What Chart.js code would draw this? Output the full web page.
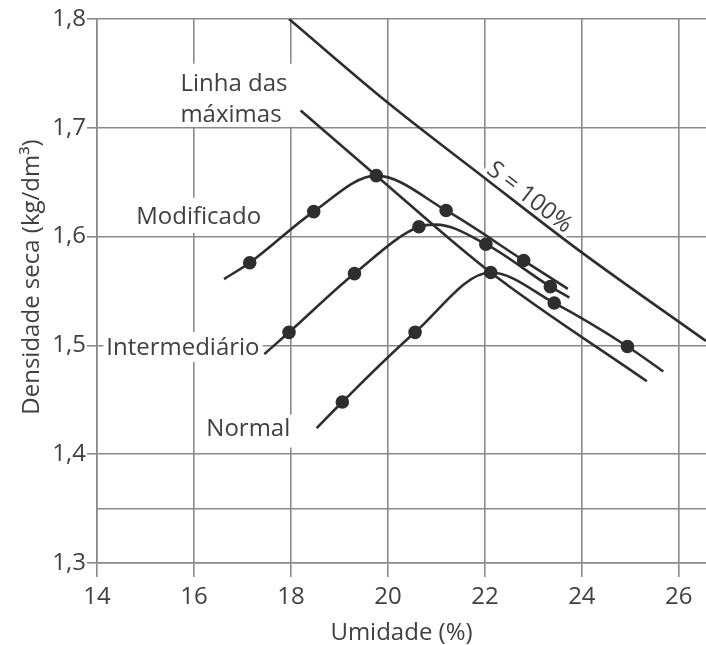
<!DOCTYPE html>
<html lang="pt">
<head>
<meta charset="utf-8">
<title>Curvas de compactação</title>
<script src="https://cdn.jsdelivr.net/npm/chart.js@4.4.1/dist/chart.umd.min.js"></script>
<style>
  html, body { margin: 0; padding: 0; background: #fff; }
  #grafico { display: block; }
</style>
</head>
<body>
<canvas id="grafico" width="706" height="645"></canvas>
<script>
// ticks dos eixos
const umidadeTicks = [14, 16, 18, 20, 22, 24, 26];
const densidadeTicks = [1.3, 1.4, 1.5, 1.6, 1.7, 1.8];
const linhaExtra = [1.35];

// Proctor modificado (1 = ponto de ensaio)
const modUmidade   = [16.62, 17.15, 18.47, 19.76, 21.20, 22.80, 23.71];
const modDensidade = [1.561, 1.576, 1.623, 1.656, 1.624, 1.578, 1.552];
const modPonto     = [0, 1, 1, 1, 1, 1, 0];

// Proctor intermediário
const intUmidade   = [17.45, 17.96, 19.31, 20.64, 20.99, 22.02, 23.35, 23.74];
const intDensidade = [1.492, 1.512, 1.566, 1.609, 1.611, 1.593, 1.554, 1.544];
const intPonto     = [0, 1, 1, 1, 0, 1, 1, 0];

// Proctor normal
const norUmidade   = [18.53, 19.06, 20.56, 22.12, 23.43, 24.94, 25.68];
const norDensidade = [1.424, 1.448, 1.512, 1.567, 1.539, 1.499, 1.476];
const norPonto     = [0, 1, 1, 1, 1, 1, 0];

// linha das máximas
const maxUmidade   = [18.20, 19.76, 22.12, 25.34];
const maxDensidade = [1.716, 1.656, 1.567, 1.467];

// curva de saturação S = 100%
const satUmidade   = [17.96, 20.0, 22.02, 24.01, 26.56];
const satDensidade = [1.800, 1.723, 1.653, 1.585, 1.504];

const fonte = "'Open Sans', 'Noto Sans', sans-serif";
const preto = '#2e2e2e';
const grade = '#8a8a8a';
const texto = '#404040';

function serie(label, xs, ys, pts) {
  return {
    label,
    data: xs.map((x, i) => ({ x, y: ys[i] })),
    showLine: true,
    borderColor: preto,
    backgroundColor: preto,
    borderWidth: 2.6,
    pointRadius: pts ? pts.map(p => p ? 5.5 : 0) : 0,
    pointHoverRadius: 0,
    cubicInterpolationMode: 'monotone'
  };
}

// textos soltos sobre o gráfico (posição em unidades dos eixos)
const notas = [
  { linhas: ['Linha das', 'máximas'], x: 15.72, y: 1.734, caixa: [15.456, 18.326, 1.7589, 1.7010] },
  { linhas: ['Modificado'], x: 14.809, y: 1.6118, caixa: [14.71, 17.60, 1.6357, 1.6035] },
  { linhas: ['Intermediário'], x: 14.19, y: 1.4913, caixa: [14.134, 17.417, 1.5124, 1.4848] },
  { linhas: ['Normal'], x: 16.255, y: 1.4168, caixa: [16.13, 18.06, 1.4364, 1.4061] }
];

const notasPlugin = {
  id: 'notas',
  beforeDatasetsDraw(chart) {
    const { ctx, scales: { x, y } } = chart;
    ctx.save();
    ctx.font = '24px ' + fonte;
    ctx.textBaseline = 'alphabetic';
    ctx.textAlign = 'left';
    notas.forEach(n => {
      const [x0, x1, y0, y1] = n.caixa;
      ctx.fillStyle = '#fff';
      ctx.fillRect(x.getPixelForValue(x0), y.getPixelForValue(y0),
        x.getPixelForValue(x1) - x.getPixelForValue(x0), y.getPixelForValue(y1) - y.getPixelForValue(y0));
      ctx.fillStyle = texto;
      n.linhas.forEach((l, i) => {
        ctx.fillText(l, x.getPixelForValue(n.x), y.getPixelForValue(n.y) + i * 30.7);
      });
    });

    // S = 100% ao longo da curva de saturação
    const ang = Math.atan2(y.getPixelForValue(satDensidade[3]) - y.getPixelForValue(satDensidade[1]),
      x.getPixelForValue(satUmidade[3]) - x.getPixelForValue(satUmidade[1]));
    ctx.translate(x.getPixelForValue(22.93), y.getPixelForValue(1.6367));
    ctx.rotate(ang);
    ctx.textAlign = 'center';
    ctx.textBaseline = 'middle';
    const w = ctx.measureText('S = 100%').width;
    ctx.fillStyle = '#fff';
    ctx.fillRect(-w / 2 - 3, -13, w + 6, 26);
    ctx.fillStyle = texto;
    ctx.fillText('S = 100%', 0, 1);
    ctx.restore();

    // título do eixo y
    ctx.save();
    ctx.font = '24px ' + fonte;
    ctx.fillStyle = texto;
    ctx.textAlign = 'center';
    ctx.textBaseline = 'middle';
    ctx.translate(32, chart.chartArea.top + 258);
    ctx.rotate(-Math.PI / 2);
    ctx.fillText('Densidade seca (kg/dm³)', 0, 0);
    ctx.restore();
  }
};

new Chart(document.getElementById('grafico'), {
  type: 'scatter',
  data: {
    datasets: [
      serie('S = 100%', satUmidade, satDensidade, null),
      serie('Linha das máximas', maxUmidade, maxDensidade, null),
      serie('Modificado', modUmidade, modDensidade, modPonto),
      serie('Intermediário', intUmidade, intDensidade, intPonto),
      serie('Normal', norUmidade, norDensidade, norPonto)
    ]
  },
  options: {
    responsive: false,
    animation: false,
    events: [],
    layout: { padding: { top: 19, right: 0, bottom: 0, left: 0 } },
    plugins: { legend: { display: false }, tooltip: { enabled: false } },
    scales: {
      x: {
        type: 'linear',
        min: 14,
        max: 26.56,
        afterBuildTicks: s => { s.ticks = umidadeTicks.map(v => ({ value: v })); },
        afterFit: s => { s.height = 82; },
        border: { color: grade, width: 1.6 },
        grid: { color: grade, lineWidth: 1.6, tickLength: 14, tickColor: grade },
        ticks: {
          color: texto, padding: 6, maxRotation: 0,
          font: { family: fonte, size: 24 },
          callback: v => String(v)
        },
        title: {
          display: true, text: 'Umidade (%)', color: texto, padding: 0,
          font: { family: fonte, size: 24, lineHeight: 1 }
        }
      },
      y: {
        type: 'linear',
        min: 1.3,
        max: 1.8,
        afterBuildTicks: s => {
          s.ticks = densidadeTicks.concat(linhaExtra).sort((a, b) => a - b).map(v => ({ value: v }));
        },
        afterFit: s => { s.width = 97; },
        border: { color: grade, width: 1.6 },
        grid: {
          color: grade, lineWidth: 1.6, tickLength: 10,
          tickColor: c => linhaExtra.includes(c.tick && c.tick.value) ? 'rgba(0,0,0,0)' : grade
        },
        ticks: {
          color: texto, padding: 1,
          font: { family: fonte, size: 24 },
          callback: v => linhaExtra.includes(v) ? '' : v.toFixed(1).replace('.', ',')
        }
      }
    }
  },
  plugins: [notasPlugin]
});
</script>
</body>
</html>
